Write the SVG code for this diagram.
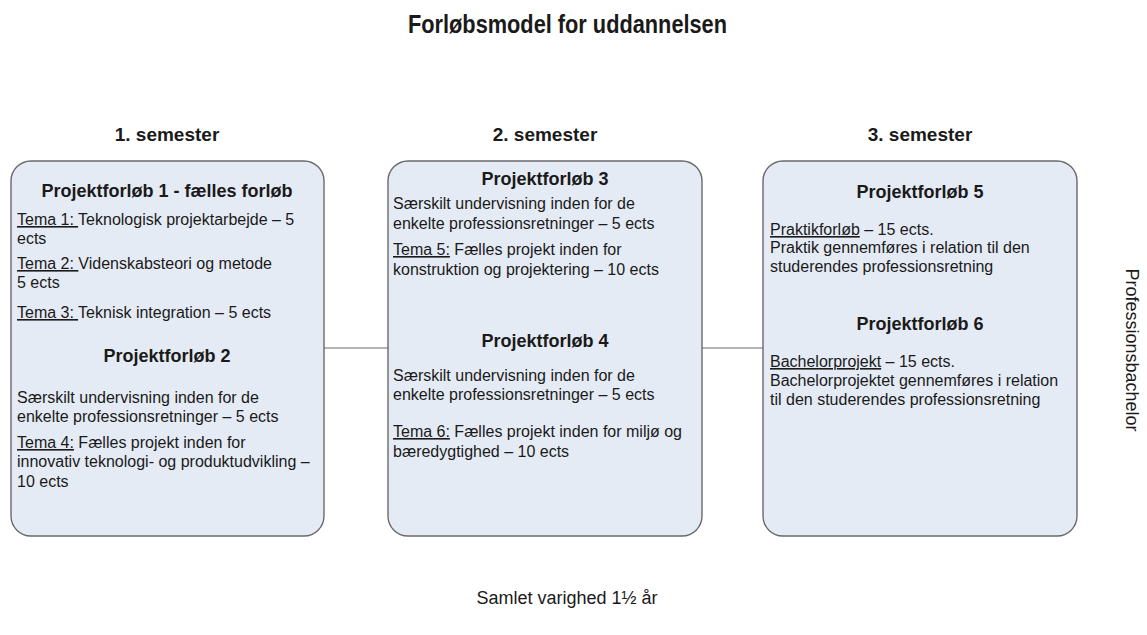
<svg xmlns="http://www.w3.org/2000/svg" width="1147" height="635" viewBox="0 0 1147 635">
<style>
.box{fill:#e5ebf5;stroke:#6a6a6a;stroke-width:1.4}
.conn{stroke:#9a9a9a;stroke-width:1.5;fill:none}
text{font-family:"Liberation Sans",Arial,sans-serif;fill:#1a1a1a}
.title{font-size:25px;font-weight:bold}
.sem{font-size:19px;font-weight:bold}
.h{font-size:18px;font-weight:bold;text-anchor:middle}
.b{font-size:16px}
.u{text-decoration:underline}
.foot{font-size:18px}
</style>
<rect width="1147" height="635" fill="#ffffff"/>
<text class="title" x="408" y="33" textLength="319" lengthAdjust="spacingAndGlyphs">Forløbsmodel for uddannelsen</text>
<text class="sem" x="167" y="141" text-anchor="middle">1. semester</text>
<text class="sem" x="545" y="141" text-anchor="middle">2. semester</text>
<text class="sem" x="920" y="141" text-anchor="middle">3. semester</text>
<g id="connectors">
<line class="conn" x1="324" y1="348" x2="388" y2="348"/>
<line class="conn" x1="702" y1="348" x2="763" y2="348"/>
</g>
<g id="sem1">
<rect class="box" x="11" y="161" width="313" height="375" rx="20" ry="20"/>
<text class="h" x="167" y="197">Projektforløb 1 - fælles forløb</text>
<text class="b" x="17" y="225"><tspan class="u">Tema 1: </tspan>Teknologisk projektarbejde – 5</text>
<text class="b" x="17" y="244">ects</text>
<text class="b" x="17" y="269"><tspan class="u">Tema 2: </tspan>Videnskabsteori og metode</text>
<text class="b" x="17" y="288">5 ects</text>
<text class="b" x="17" y="318"><tspan class="u">Tema 3: </tspan>Teknisk integration – 5 ects</text>
<text class="h" x="167" y="362">Projektforløb 2</text>
<text class="b" x="17" y="403">Særskilt undervisning inden for de</text>
<text class="b" x="17" y="422">enkelte professionsretninger – 5 ects</text>
<text class="b" x="17" y="448"><tspan class="u">Tema 4:</tspan> Fælles projekt inden for</text>
<text class="b" x="17" y="467">innovativ teknologi- og produktudvikling –</text>
<text class="b" x="17" y="487">10 ects</text>
</g>
<g id="sem2">
<rect class="box" x="388" y="161" width="314" height="375" rx="20" ry="20"/>
<text class="h" x="545" y="185">Projektforløb 3</text>
<text class="b" x="393" y="209">Særskilt undervisning inden for de</text>
<text class="b" x="393" y="229">enkelte professionsretninger – 5 ects</text>
<text class="b" x="393" y="255"><tspan class="u">Tema 5:</tspan> Fælles projekt inden for</text>
<text class="b" x="393" y="275">konstruktion og projektering – 10 ects</text>
<text class="h" x="545" y="347">Projektforløb 4</text>
<text class="b" x="393" y="381">Særskilt undervisning inden for de</text>
<text class="b" x="393" y="400">enkelte professionsretninger – 5 ects</text>
<text class="b" x="393" y="437"><tspan class="u">Tema 6:</tspan> Fælles projekt inden for miljø og</text>
<text class="b" x="393" y="457">bæredygtighed – 10 ects</text>
</g>
<g id="sem3">
<rect class="box" x="763" y="161" width="314" height="375" rx="20" ry="20"/>
<text class="h" x="920" y="198">Projektforløb 5</text>
<text class="b" x="770" y="235"><tspan class="u">Praktikforløb</tspan> – 15 ects.</text>
<text class="b" x="770" y="253">Praktik gennemføres i relation til den</text>
<text class="b" x="770" y="272">studerendes professionsretning</text>
<text class="h" x="920" y="330">Projektforløb 6</text>
<text class="b" x="770" y="367"><tspan class="u">Bachelorprojekt</tspan> – 15 ects.</text>
<text class="b" x="770" y="386">Bachelorprojektet gennemføres i relation</text>
<text class="b" x="770" y="405">til den studerendes professionsretning</text>
</g>
<g id="side">
<text class="foot" transform="translate(1126,350) rotate(90)" text-anchor="middle">Professionsbachelor</text>
</g>
<g id="footer">
<text class="foot" x="567" y="604" text-anchor="middle">Samlet varighed 1½ år</text>
</g>
</svg>
